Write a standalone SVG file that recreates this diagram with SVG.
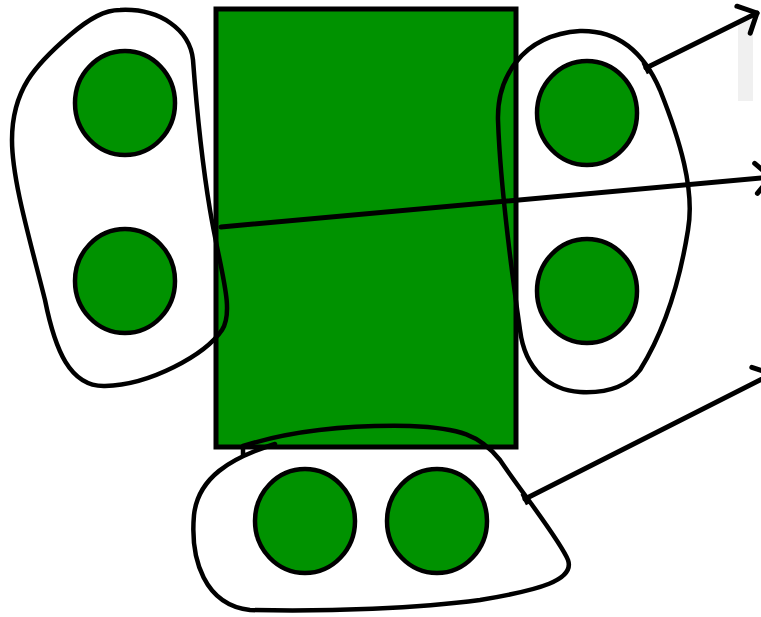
<svg xmlns="http://www.w3.org/2000/svg" width="761" height="617" viewBox="0 0 761 617">
<defs>
<style>
.blob{fill:none;stroke:#000;stroke-width:4.5;stroke-linejoin:round;stroke-linecap:round}
.dot{fill:#009200;stroke:#000;stroke-width:4.5}
.conn{fill:none;stroke:#000;stroke-width:5;stroke-linecap:round}
</style>
<marker id="ah" markerUnits="userSpaceOnUse" markerWidth="40" markerHeight="40" viewBox="-20 -20 40 40" refX="0" refY="0" orient="auto">
<path d="M-15,-15 L0,0 L-15,15" fill="none" stroke="#000" stroke-width="5" stroke-linecap="round" stroke-linejoin="round"/>
</marker>
<marker id="bar" markerUnits="userSpaceOnUse" markerWidth="20" markerHeight="20" viewBox="-10 -10 20 20" refX="0" refY="0" orient="auto">
<path d="M0,-6 L0,6" fill="none" stroke="#000" stroke-width="4"/>
</marker>
</defs>
<rect x="738" y="20" width="15" height="81" fill="#f0f0f0"/>
<g id="main">
<rect x="216" y="9" width="300" height="438" fill="#009200" stroke="#000" stroke-width="5"/>
</g>
<g id="left-group">
<path class="blob" d="M120,10 C160,8 190,30 193,60 C196,100 200,150 210,210 C220,270 235,310 222,330 C205,355 150,385 105,386 C70,387 55,350 45,300 C30,240 12,180 12,140 C12,90 35,65 70,35 C90,18 105,10 120,10 Z"/>
<ellipse class="dot" cx="125" cy="103" rx="50" ry="52"/>
<ellipse class="dot" cx="125" cy="281" rx="50" ry="52"/>
</g>
<g id="right-group">
<path class="blob" d="M580,31 C620,30 645,55 660,90 C680,140 695,190 688,230 C680,280 665,330 640,370 C625,390 600,393 580,392 C550,390 525,370 520,330 C510,260 500,180 498,120 C497,80 520,35 580,31 Z"/>
<ellipse class="dot" cx="587" cy="113" rx="50" ry="52"/>
<ellipse class="dot" cx="587" cy="291" rx="50" ry="52"/>
</g>
<g id="bottom-group">
<path class="blob" d="M275,444 C230,458 198,478 194,515 C190,560 205,605 250,610 C330,612 420,608 480,600 C540,590 575,580 568,560 C560,540 520,490 500,460 C480,435 460,428 410,426 C360,425 300,428 243,446 L243,455"/>
<ellipse class="dot" cx="305" cy="521" rx="50" ry="52"/>
<ellipse class="dot" cx="437" cy="521" rx="50" ry="52"/>
</g>
<g id="connectors">
<line class="conn" x1="646" y1="68" x2="757" y2="13" marker-start="url(#bar)" marker-end="url(#ah)"/>
<line class="conn" x1="221" y1="227" x2="771" y2="177" marker-end="url(#ah)"/>
<line class="conn" x1="525" y1="499" x2="772" y2="374" marker-start="url(#bar)" marker-end="url(#ah)"/>
</g>
</svg>
